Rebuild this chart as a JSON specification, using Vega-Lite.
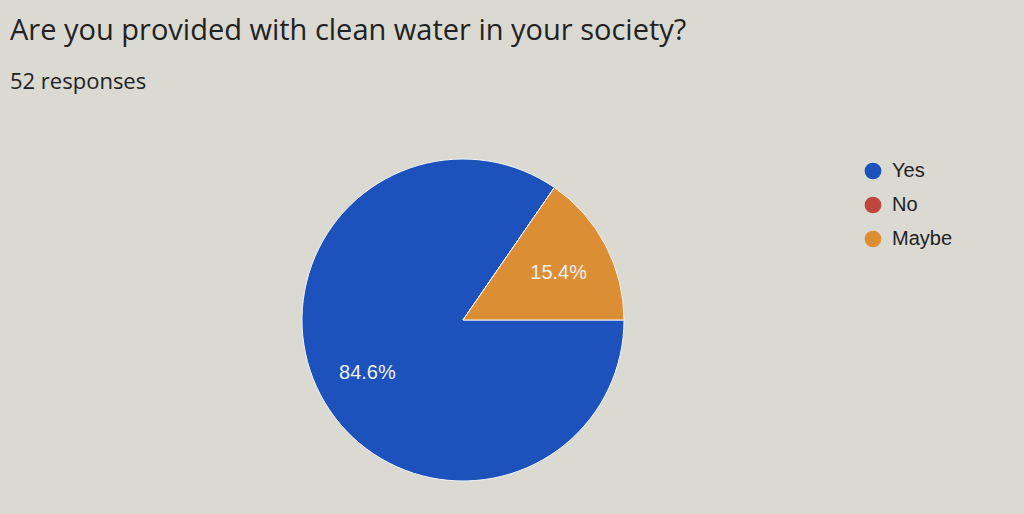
{
  "$schema": "https://vega.github.io/schema/vega-lite/v6.json",
  "autosize": "none",
  "width": 906,
  "height": 388,
  "padding": {"left": 10, "top": 126, "right": 108, "bottom": 0},
  "background": "#dadad3",
  "title": {
    "text": "Are you provided with clean water in your society?",
    "subtitle": "52 responses",
    "anchor": "start",
    "frame": "group",
    "font": "Open Sans",
    "fontSize": 29,
    "fontWeight": "normal",
    "color": "#222222",
    "subtitleFont": "Open Sans",
    "subtitleFontSize": 22,
    "subtitleColor": "#222222",
    "subtitlePadding": 26,
    "offset": 33
  },
  "data": {
    "values": [
      {"answer": "Yes", "count": 44, "idx": 1},
      {"answer": "No", "count": 0, "idx": 2},
      {"answer": "Maybe", "count": 8, "idx": 3}
    ]
  },
  "transform": [
    {"joinaggregate": [{"op": "sum", "field": "count", "as": "total"}]},
    {"calculate": "format(datum.count / datum.total * 100, '.1f') + '%'", "as": "pct"}
  ],
  "encoding": {
    "theta": {
      "field": "count",
      "type": "quantitative",
      "stack": true,
      "scale": {"range": [1.5708, 7.854]}
    },
    "order": {"field": "idx", "type": "quantitative"},
    "color": {
      "field": "answer",
      "type": "nominal",
      "sort": ["Yes", "No", "Maybe"],
      "scale": {"domain": ["Yes", "No", "Maybe"], "range": ["#1d52bd", "#c0473b", "#dc8e34"]},
      "legend": {
        "title": null,
        "orient": "none",
        "legendX": 853,
        "legendY": 35,
        "symbolType": "circle",
        "symbolSize": 280,
        "symbolStrokeWidth": 0,
        "labelFont": "Liberation Sans",
        "labelFontSize": 20,
        "labelColor": "#222222",
        "rowPadding": 14,
        "labelOffset": 9
      }
    }
  },
  "layer": [
    {
      "mark": {"type": "arc", "outerRadius": 161, "stroke": "#f2f2f2", "strokeWidth": 1}
    },
    {
      "transform": [{"filter": "datum.count > 0"}],
      "mark": {"type": "text", "radius": 108, "dy": 3, "font": "Liberation Sans", "fontSize": 20},
      "encoding": {
        "text": {"field": "pct"},
        "color": {"value": "#eef0f2"}
      }
    }
  ]
}
